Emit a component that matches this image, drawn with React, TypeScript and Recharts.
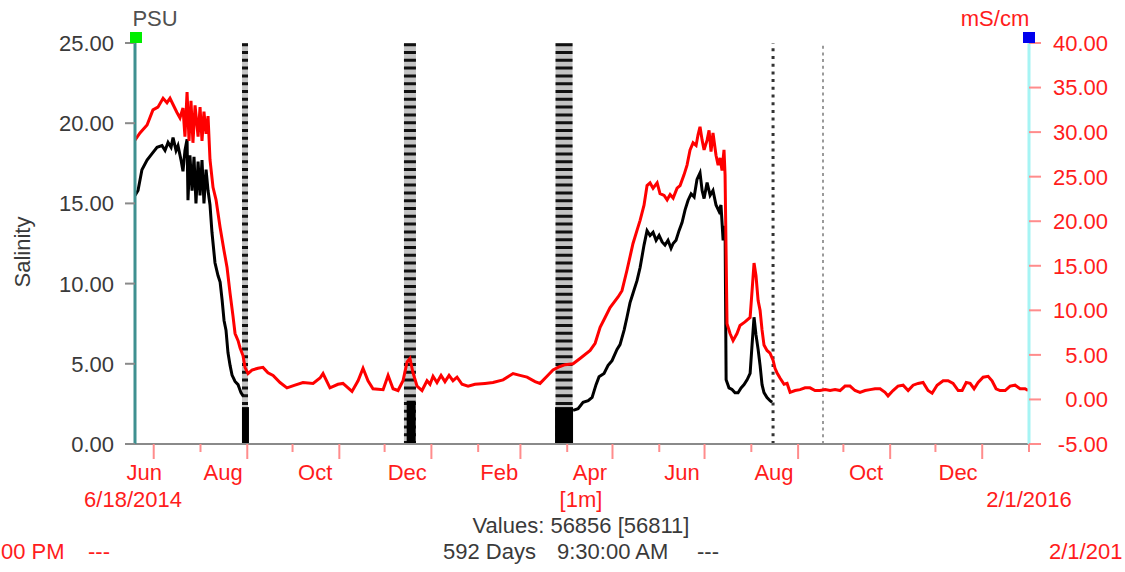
import React from 'react';
import { LineChart, Line, XAxis, YAxis, ReferenceLine } from 'recharts';

// Days since 6/18/2014 00:00 ; conductivity (mS/cm)
const redDays = [
  0.6, 3.9, 8.6, 12.5, 15.8, 19.2, 21.8, 23.8, 25.8, 28.4,
  30.4, 32.4, 33.7, 35.1, 36.4, 37.7, 39.0, 40.4, 42.4, 43.7,
  45.0, 46.3, 47.7, 49.0, 50.3, 52.3, 54.3, 57.0, 59.6, 61.6,
  63.6, 65.5, 66.9, 68.9, 70.2, 72.2, 73.5, 75.5, 78.1, 82.1,
  85.4, 88.7, 92.1, 96.7, 101.3, 106.6, 111.9, 118.6, 123.2, 125.2,
  129.8, 135.1, 138.4, 144.4, 148.4, 151.7, 155.0, 158.3, 165.0, 168.3,
  171.6, 174.9, 178.2, 180.9, 182.8, 184.8, 187.5, 190.8, 194.1, 196.1,
  198.1, 200.7, 203.4, 206.0, 208.7, 211.3, 214.0, 217.3, 221.3, 225.9,
  232.5, 237.8, 244.5, 251.1, 255.7, 260.4, 265.7, 269.0, 273.6, 277.6,
  282.2, 285.6, 290.9, 295.5, 302.2, 305.5, 308.8, 312.1, 315.4, 320.7,
  323.3, 326.6, 330.6, 333.3, 335.3, 337.9, 339.9, 341.9, 343.9, 346.6,
  348.5, 351.2, 353.2, 355.2, 357.2, 359.8, 361.8, 364.4, 366.4, 368.4,
  370.4, 372.4, 373.7, 375.0, 376.4, 377.7, 379.7, 381.0, 382.3, 383.6,
  385.6, 387.0, 388.3, 389.6, 390.9, 391.6, 392.9, 394.9, 396.9, 399.5,
  401.5, 404.8, 408.2, 409.5, 410.8, 412.1, 413.5, 414.8, 416.1, 417.4,
  419.4, 421.4, 423.4, 424.7, 426.0, 428.0, 430.7, 432.7, 434.7, 438.0,
  441.3, 444.6, 447.9, 451.2, 454.5, 457.9, 461.2, 464.5, 467.8, 471.1,
  474.4, 477.7, 481.0, 484.4, 487.7, 491.0, 494.3, 497.6, 499.6, 502.9,
  506.2, 509.6, 512.9, 516.2, 519.5, 522.8, 526.1, 528.8, 532.1, 536.1,
  539.4, 542.7, 546.1, 548.7, 551.4, 554.0, 556.6, 559.3, 562.6, 565.9,
  568.5, 571.2, 573.8, 577.2, 580.5, 583.8, 587.1, 590.4, 592.4,
];
const redCond = [
  29.1, 29.9, 30.8, 32.5, 32.8, 33.8, 33.3, 33.8, 33.1, 32.2,
  31.6, 32.7, 29.5, 34.5, 29.0, 33.5, 28.8, 33.0, 29.5, 32.8,
  29.0, 32.3, 29.8, 31.8, 26.9, 23.8, 22.4, 19.3, 16.7, 14.8,
  11.9, 9.4, 7.4, 6.6, 5.8, 4.9, 3.6, 2.9, 3.3, 3.5,
  3.6, 3.0, 2.7, 1.9, 1.3, 1.6, 1.9, 1.8, 2.4, 2.9,
  1.3, 1.7, 1.8, 0.9, 2.1, 3.5, 2.1, 1.2, 1.1, 2.7,
  1.2, 1.0, 2.1, 4.2, 4.6, 3.0, 1.5, 1.0, 2.1, 1.7,
  2.6, 1.9, 2.7, 2.0, 2.7, 2.1, 2.5, 1.7, 1.5, 1.7,
  1.8, 1.9, 2.2, 2.9, 2.7, 2.5, 2.0, 1.8, 2.6, 3.3,
  3.7, 3.9, 4.0, 4.6, 5.5, 6.3, 8.1, 9.2, 10.3, 11.5,
  12.2, 14.5, 17.5, 19.0, 20.1, 21.8, 24.0, 24.3, 23.7, 24.3,
  23.1, 22.9, 22.4, 23.0, 22.6, 23.7, 24.0, 25.2, 26.3, 28.0,
  28.8, 28.5, 29.7, 30.6, 29.1, 28.0, 29.1, 30.2, 27.8, 29.9,
  27.4, 26.3, 27.1, 25.7, 28.0, 25.2, 8.5, 7.4, 6.6, 7.4,
  8.3, 8.7, 9.2, 12.2, 15.3, 13.9, 11.1, 10.0, 7.8, 6.1,
  5.5, 5.2, 4.4, 3.5, 3.0, 2.4, 1.7, 1.8, 0.8, 1.0,
  1.1, 1.3, 1.3, 1.0, 1.0, 1.1, 1.0, 1.1, 1.0, 1.5,
  1.5, 1.0, 0.8, 1.0, 1.1, 1.2, 1.2, 0.8, 0.4, 1.0,
  1.5, 1.6, 1.0, 1.6, 1.8, 1.9, 1.0, 0.7, 1.6, 2.1,
  2.1, 1.8, 1.0, 1.0, 1.9, 1.8, 1.2, 1.9, 2.5, 2.6,
  2.1, 1.2, 1.0, 1.0, 1.5, 1.6, 1.2, 1.2, 1.0,
];

// Salinity (PSU); null = gap in the record
const blackDays = [
  0.6, 2.6, 5.2, 8.6, 11.9, 15.2, 18.5, 20.5, 22.5, 24.5,
  25.8, 27.8, 29.1, 31.1, 32.4, 33.7, 35.1, 35.7, 37.0, 38.4,
  39.7, 41.0, 42.4, 43.7, 45.0, 46.3, 47.7, 49.0, 50.3, 51.6,
  53.6, 55.6, 57.0, 58.3, 59.6, 60.9, 62.2, 63.6, 64.9, 66.9,
  68.9, 70.8, 72.2, 73.0,
  290.9, 294.2, 297.5, 300.9, 303.5, 306.1, 308.1, 311.4, 314.1, 316.7,
  320.0, 322.0, 324.7, 326.6, 328.6, 330.6, 333.3, 335.3, 337.9, 339.9,
  341.9, 343.9, 345.9, 347.9, 349.9, 351.8, 353.8, 355.8, 357.2, 359.1,
  361.1, 363.1, 365.1, 367.1, 369.1, 371.1, 373.0, 375.0, 376.4, 377.7,
  379.7, 381.7, 383.6, 385.6, 387.6, 388.9, 390.3, 391.6, 392.3, 394.2,
  396.2, 398.2, 400.2, 402.2, 404.2, 406.2, 408.2, 409.5, 410.8, 412.1,
  413.5, 414.8, 416.1, 417.4, 419.4, 421.4, 422.8,
];
const blackSal: (number | null)[] = [
  15.5, 15.8, 17.1, 17.7, 18.1, 18.5, 18.6, 18.3, 18.8, 18.5,
  19.1, 18.3, 18.6, 17.7, 17.0, 18.3, 19.0, 15.2, 18.0, 15.8,
  17.9, 15.0, 17.6, 15.5, 17.7, 15.0, 17.1, 15.8, 14.9, 13.2,
  11.3, 10.5, 10.1, 9.0, 7.7, 7.1, 5.7, 4.9, 4.3, 3.9,
  3.7, 3.2, 3.0, null,
  2.1, 2.2, 2.6, 2.7, 2.9, 3.7, 4.2, 4.4, 4.9, 5.2,
  5.9, 6.2, 7.1, 7.9, 8.8, 9.4, 10.2, 11.0, 12.4, 13.3,
  13.0, 13.2, 12.7, 13.0, 12.6, 12.4, 12.7, 12.2, 12.5, 12.7,
  13.3, 13.8, 14.6, 15.2, 15.6, 15.4, 16.5, 16.9, 15.8, 15.3,
  16.3, 15.5, 15.8, 14.9, 14.5, 14.9, 12.7, 13.6, 4.0, 3.5,
  3.4, 3.2, 3.2, 3.5, 3.7, 4.0, 4.4, 6.2, 7.9, 6.8,
  5.9, 4.9, 3.7, 3.2, 2.9, 2.7, 2.6,
];

// Event markers (days) and low-salinity dropouts (day, top PSU)
const markerDays = [73.5, 182.8, 284.9, 423.4, 456.5];
const dropDays = [73.8, 183.6, 284.9];
const dropTop = [2.3, 2.7, 2.3];

const monthTickDays = [13, 44, 75, 105, 136, 166, 197, 228, 256, 287, 317, 348, 378, 409, 440, 470, 501, 531, 562, 593];
const monthLabelDays = [6.8, 59, 120, 181, 242, 302, 363, 424, 485, 546];
const monthLabelNames = ['Jun', 'Aug', 'Oct', 'Dec', 'Feb', 'Apr', 'Jun', 'Aug', 'Oct', 'Dec'];
const salinityTicks = [0, 5, 10, 15, 20, 25];
const condTicks = [-5, 0, 5, 10, 15, 20, 25, 30, 35, 40];

const DOMAIN_START = 0.6;
const DOMAIN_END = 593;

const RED = '#ff1c1c';
const PINK = '#ff8c8c';
const DARK = '#3a3a3a';
const FONT = '"Liberation Sans", Arial, sans-serif';
const FS = 22;
const AXIS_Y = 444;

const redData = redDays.map((d, i) => ({ d, c: redCond[i] }));
const blackData = blackDays.map((d, i) => ({ d, s: blackSal[i] }));

const markerWidths = [6, 12, 17, 3, 2];
const markerBase = ['#c4c4c4', '#c4c4c4', '#c4c4c4', null, null];
const markerDash = ['#111', '#111', '#111', '#333', '#9a9a9a'];
const markerPattern = ['3 4.8', '3 4.8', '3 4.8', '3 4.7', '3 3.7'];
const dropWidths = [7, 9, 18];

const XTick = (props: any) => {
  const { x, payload } = props;
  const v = payload.value;
  const li = monthLabelDays.indexOf(v);
  if (li >= 0) {
    return (
      <text x={x} y={480} textAnchor="middle" fill={RED} fontSize={FS} fontFamily={FONT}>
        {monthLabelNames[li]}
      </text>
    );
  }
  const ti = monthTickDays.indexOf(v);
  const len = ti % 2 === 0 ? 15 : 8;
  return <line x1={x} x2={x} y1={AXIS_Y} y2={AXIS_Y + len} stroke={PINK} strokeWidth={2} />;
};

const LeftTick = (props: any) => {
  const { y, payload } = props;
  return (
    <text x={114} y={y} dy="0.36em" textAnchor="end" fill={DARK} fontSize={FS} fontFamily={FONT}>
      {Number(payload.value).toFixed(2)}
    </text>
  );
};

const RightTick = (props: any) => {
  const { y, payload } = props;
  return (
    <text x={1108} y={y} dy="0.36em" textAnchor="end" fill={RED} fontSize={FS} fontFamily={FONT}>
      {Number(payload.value).toFixed(2)}
    </text>
  );
};

export default function App() {
  return (
    <div style={{ position: 'absolute', left: 0, top: 0, width: 1125, height: 572, background: '#fff', fontFamily: FONT }}>
      <LineChart width={1125} height={572} margin={{ top: 43, right: 0, bottom: 98, left: 0 }}>
        <XAxis
          xAxisId={0}
          dataKey="d"
          type="number"
          domain={[DOMAIN_START, DOMAIN_END]}
          allowDataOverflow
          ticks={[...monthTickDays, ...monthLabelDays].sort((a, b) => a - b)}
          interval={0}
          tick={<XTick />}
          tickLine={false}
          axisLine={{ stroke: '#8a8a8a', strokeWidth: 2 }}
          height={30}
        />
        <YAxis
          yAxisId="left"
          orientation="left"
          domain={[0, 25]}
          ticks={salinityTicks}
          width={135}
          tick={<LeftTick />}
          tickSize={10}
          tickLine={{ stroke: '#8a8a8a', strokeWidth: 2 }}
          axisLine={{ stroke: '#3f9090', strokeWidth: 3 }}
          allowDataOverflow
        />
        <YAxis
          yAxisId="right"
          orientation="right"
          domain={[-5, 40]}
          ticks={condTicks}
          width={96}
          tick={<RightTick />}
          tickSize={12}
          tickLine={{ stroke: PINK, strokeWidth: 2 }}
          axisLine={{ stroke: '#a6f4f4', strokeWidth: 3 }}
          allowDataOverflow
        />
        {markerDays.map((d, i) =>
          markerBase[i] ? (
            <ReferenceLine key={'b' + i} yAxisId="left" x={d} stroke={markerBase[i] as string} strokeWidth={markerWidths[i]} />
          ) : null
        )}
        {markerDays.map((d, i) => (
          <ReferenceLine
            key={'m' + i}
            yAxisId="left"
            x={d}
            stroke={markerDash[i]}
            strokeWidth={markerWidths[i]}
            strokeDasharray={markerPattern[i]}
          />
        ))}
        <ReferenceLine
          yAxisId="right"
          segment={[{ x: DOMAIN_START, y: -5 }, { x: markerDays[0], y: -5 }]}
          stroke={PINK}
          strokeWidth={2}
        />
        <ReferenceLine
          yAxisId="right"
          segment={[{ x: 287, y: -5 }, { x: markerDays[4], y: -5 }]}
          stroke={PINK}
          strokeWidth={2}
        />
        <ReferenceLine yAxisId="right" x={DOMAIN_END} stroke="#e09a9a" strokeWidth={1.5} strokeDasharray="3 3" />
        {dropDays.map((d, i) => (
          <ReferenceLine
            key={'d' + i}
            yAxisId="left"
            segment={[{ x: d, y: 0 }, { x: d, y: dropTop[i] }]}
            stroke="#000"
            strokeWidth={dropWidths[i]}
          />
        ))}
        <Line
          yAxisId="left"
          data={blackData}
          dataKey="s"
          type="linear"
          stroke="#000"
          strokeWidth={3}
          dot={false}
          isAnimationActive={false}
          connectNulls={false}
        />
        <Line
          yAxisId="right"
          data={redData}
          dataKey="c"
          type="linear"
          stroke="#ff0000"
          strokeWidth={3}
          dot={false}
          isAnimationActive={false}
        />
      </LineChart>
      <svg
        width={1125}
        height={572}
        style={{ position: 'absolute', left: 0, top: 0, pointerEvents: 'none' }}
        fontFamily={FONT}
        fontSize={FS}
      >
        <text x={155} y={26} textAnchor="middle" fill="#505050">PSU</text>
        <text x={995} y={26} textAnchor="middle" fill={RED}>mS/cm</text>
        <rect x={130} y={32} width={12} height={11} fill="#00ee00" />
        <rect x={1023} y={32} width={12} height={11} fill="#0000ee" />
        <text transform="translate(30,252) rotate(-90)" textAnchor="middle" fill={DARK}>Salinity</text>
        <text x={133} y={507} textAnchor="middle" fill={RED}>6/18/2014</text>
        <text x={581} y={507} textAnchor="middle" fill={RED}>[1m]</text>
        <text x={1029} y={507} textAnchor="middle" fill={RED}>2/1/2016</text>
        <text x={581} y={533} textAnchor="middle" fill={DARK}>Values: 56856 [56811]</text>
        <text x={443} y={559} fill={DARK}>592 Days</text>
        <text x={557} y={559} fill={DARK}>9:30:00 AM</text>
        <text x={697} y={559} fill={DARK}>---</text>
        <text x={1} y={559} fill={RED}>00 PM</text>
        <text x={88} y={559} fill={RED}>---</text>
        <text x={1049} y={559} fill={RED}>2/1/201</text>
      </svg>
    </div>
  );
}
